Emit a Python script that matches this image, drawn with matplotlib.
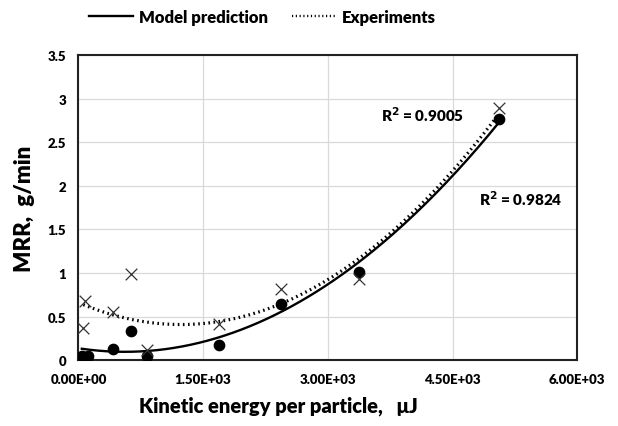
import numpy as np
import matplotlib.pyplot as plt
from matplotlib.lines import Line2D

plt.rcParams['font.family'] = ['Lato', 'DejaVu Sans']
plt.rcParams['font.weight'] = 'bold'

# Kinetic energy per particle (uJ) and material removal rate (g/min)
model_energy = [40, 110, 418, 631, 820, 1685, 2434, 3371, 5058]
model_mrr = [0.05, 0.05, 0.13, 0.34, 0.05, 0.18, 0.65, 1.01, 2.76]

exp_energy = [58, 78, 418, 631, 820, 1685, 2434, 3371, 5058]
exp_mrr = [0.37, 0.68, 0.55, 0.99, 0.12, 0.42, 0.82, 0.93, 2.89]

x_ticks = [0, 1500, 3000, 4500, 6000]
x_tick_labels = ['0.00E+00', '1.50E+03', '3.00E+03', '4.50E+03', '6.00E+03']
y_ticks = [0, 0.5, 1, 1.5, 2, 2.5, 3, 3.5]
y_tick_labels = ['0', '0.5', '1', '1.5', '2', '2.5', '3', '3.5']


def quad_trend(x, y):
    # second-order polynomial trendline over the data range
    coef = np.polyfit(x, y, 2)
    xs = np.linspace(min(x), max(x), 200)
    return xs, np.polyval(coef, xs)


fig = plt.figure(figsize=(6.18, 4.27), dpi=100)
ax = fig.add_axes([0.127, 0.154, 0.807, 0.715])

mx, my = quad_trend(model_energy, model_mrr)
ex, ey = quad_trend(exp_energy, exp_mrr)

dots = (0, (0.5, 1.1))
ax.plot(mx, my, color='black', linewidth=1.7, zorder=3)
ax.plot(ex, ey, color='black', linewidth=2.3, linestyle=dots, zorder=3)
ax.scatter(model_energy, model_mrr, s=55, color='black', zorder=4)
ax.scatter(exp_energy, exp_mrr, s=70, marker='x', color='#333333', linewidths=0.9, zorder=4)

ax.text(3640, 2.83, 'R$^2$ = 0.9005', fontsize=11, fontweight='heavy', va='center')
ax.text(4820, 1.86, 'R$^2$ = 0.9824', fontsize=11, fontweight='heavy', va='center')

ax.set_xlim(0, 6000)
ax.set_ylim(0, 3.5)
ax.set_xticks(x_ticks)
ax.set_xticklabels(x_tick_labels)
ax.set_yticks(y_ticks)
ax.set_yticklabels(y_tick_labels)
ax.tick_params(length=0, labelsize=9.5, pad=9)
for lbl in ax.get_xticklabels() + ax.get_yticklabels():
    lbl.set_fontweight('heavy')
ax.grid(True, color='#d9d9d9', linewidth=0.9)
ax.set_axisbelow(True)
for sp in ax.spines.values():
    sp.set_color('#222222')
    sp.set_linewidth(1.5)

ax.set_xlabel('Kinetic energy per particle,   \u03bcJ', fontsize=14.5, fontweight='heavy')
ax.xaxis.set_label_coords(0.40, -0.115)
ax.set_ylabel('MRR,  g/min', fontsize=16, fontweight='heavy', labelpad=9)

handles = [Line2D([], [], color='black', linewidth=1.7),
           Line2D([], [], color='black', linewidth=1.7, linestyle=dots)]
leg = fig.legend(handles, ['Model prediction', 'Experiments'], loc='center',
                 bbox_to_anchor=(0.425, 0.958), ncol=2, frameon=False,
                 handlelength=2.6, handletextpad=0.4, columnspacing=1.4,
                 prop={'weight': 'heavy', 'size': 12})

fig.savefig('out.png', dpi=100)
